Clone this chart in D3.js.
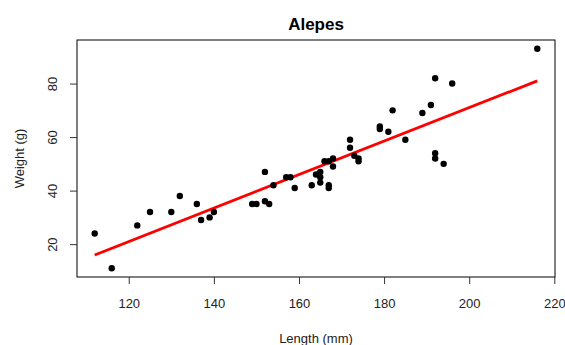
<!DOCTYPE html>
<html><head><meta charset="utf-8">
<script src="https://cdn.jsdelivr.net/npm/d3@7"></script>
<style>body{margin:0;background:#fff}svg{display:block}text{font-family:"Liberation Sans",Arial,sans-serif}</style>
</head><body><svg id="c" width="565" height="345"></svg>
<script>
const title = "Alepes";
const xLabel = "Length (mm)";
const yLabel = "Weight (g)";
const lengthMm = [112,116,122,125,130,132,136,137,139,140,
  149,150,152,152,153,154,157,158,159,163,
  164,165,165,165,166,167,167,167,168,168,
  172,172,173,174,174,179,179,181,182,185,
  189,191,192,192,192,194,196,216];
const weightG = [24,11,27,32,32,38,35,29,30,32,
  35,35,47,36,35,42,45,45,41,42,
  46,47,45,43,51,42,41,51,52,49,
  59,56,53,52,51,64,63,62,70,59,
  69,72,82,54,52,50,80,93];
const xTicks = [120,140,160,180,200,220];
const yTicks = [20,40,60,80];

const svg = d3.select("#c");
const L = 77, R = 555, T = 40, B = 277;
function padExt(arr){const [a,b]=d3.extent(arr);const p=(b-a)*0.04;return [a-p,b+p];}
const x = d3.scaleLinear().domain(padExt(lengthMm)).range([L,R]);
const y = d3.scaleLinear().domain(padExt(weightG)).range([B,T]);

// least-squares fit
const n = lengthMm.length;
const mx = d3.mean(lengthMm), my = d3.mean(weightG);
let sxy=0,sxx=0;
for(let i=0;i<n;i++){sxy+=(lengthMm[i]-mx)*(weightG[i]-my);sxx+=(lengthMm[i]-mx)**2;}
const slope = sxy/sxx, icpt = my - slope*mx;
const xr = d3.extent(lengthMm);
const fit = xr.map(v=>[v, icpt+slope*v]);

svg.append("rect").attr("x",L).attr("y",T).attr("width",R-L).attr("height",B-T)
  .attr("fill","none").attr("stroke","#000").attr("stroke-width",1);

const xa = svg.append("g").attr("transform",`translate(0,${B})`)
  .call(d3.axisBottom(x).tickValues(xTicks).tickSize(7).tickPadding(0).tickSizeOuter(0));
xa.select(".domain").remove();
xa.selectAll("line").attr("stroke","#333");
xa.selectAll("text").attr("dy",null).attr("y",31).attr("font-size",13).attr("fill","#222")
  .style("font-family","Liberation Sans, Arial, sans-serif");

const ya = svg.append("g").attr("transform",`translate(${L},0)`)
  .call(d3.axisLeft(y).tickValues(yTicks).tickSize(7).tickSizeOuter(0));
ya.select(".domain").remove();
ya.selectAll("line").attr("stroke","#333");
ya.selectAll("text").attr("dy",null).attr("x",null).attr("y",null)
  .attr("text-anchor","middle").attr("font-size",13).attr("fill","#222")
  .style("font-family","Liberation Sans, Arial, sans-serif")
  .attr("transform","translate(-20,0) rotate(-90)").attr("dy","0");

svg.append("path").datum(fit)
  .attr("d",d3.line().x(d=>x(d[0])).y(d=>y(d[1])))
  .attr("stroke","#ff0000").attr("stroke-width",2.8).attr("fill","none");

svg.append("g").selectAll("circle").data(lengthMm.map((v,i)=>[v,weightG[i]])).join("circle")
  .attr("cx",d=>x(d[0])).attr("cy",d=>y(d[1])).attr("r",3.2).attr("fill","#000");

svg.append("text").attr("x",(L+R)/2).attr("y",30).attr("text-anchor","middle")
  .attr("font-size",17).attr("font-weight","bold").text(title);
svg.append("text").attr("x",(L+R)/2).attr("y",343).attr("text-anchor","middle")
  .attr("font-size",13).attr("fill","#222").text(xLabel);
svg.append("text").attr("transform",`translate(24,${(T+B)/2}) rotate(-90)`).attr("text-anchor","middle")
  .attr("font-size",13).attr("fill","#222").text(yLabel);
</script></body></html>
